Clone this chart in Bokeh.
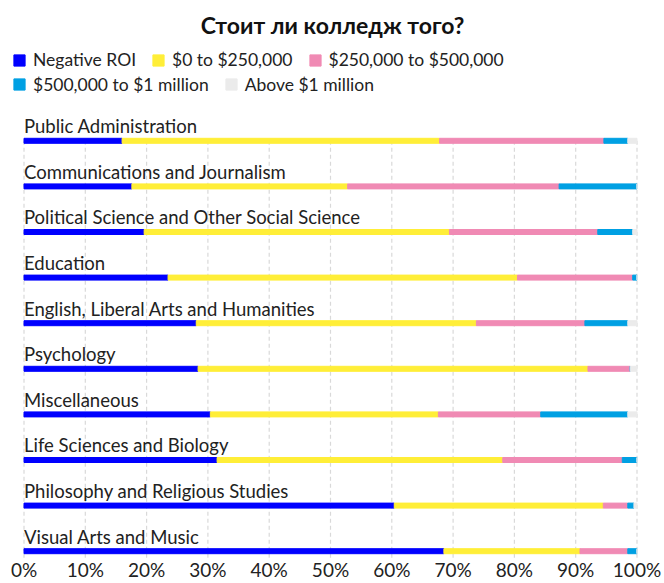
from bokeh.plotting import figure
from bokeh.models import (Range1d, Legend, LegendItem, ColumnDataSource,
                          FixedTicker, PrintfTickFormatter)
from bokeh.core.properties import value
from bokeh.embed import file_html
from bokeh.resources import INLINE

# ---------------- data ----------------
categories = [
    "Public Administration",
    "Communications and Journalism",
    "Political Science and Other Social Science",
    "Education",
    "English, Liberal Arts and Humanities",
    "Psychology",
    "Miscellaneous",
    "Life Sciences and Biology",
    "Philosophy and Religious Studies",
    "Visual Arts and Music",
]
negative_roi = [16.0, 17.6, 19.6, 23.5, 28.1, 28.4, 30.4, 31.5, 60.4, 68.5]
roi_0_250k = [51.8, 35.2, 49.8, 57.0, 45.7, 63.6, 37.2, 46.6, 34.1, 22.2]
roi_250k_500k = [26.8, 34.5, 24.2, 18.8, 17.7, 6.9, 16.7, 19.5, 4.0, 7.8]
roi_500k_1m = [3.9, 12.7, 5.7, 0.7, 7.0, 0.0, 14.2, 2.4, 1.0, 1.5]
roi_above_1m = [1.5, 0.0, 0.7, 0.0, 1.5, 1.1, 1.5, 0.0, 0.5, 0.0]

series_keys = ["neg", "r250", "r500", "r1m", "above"]
series_labels = ["Negative ROI", "$0 to $250,000", "$250,000 to $500,000",
                 "$500,000 to $1 million", "Above $1 million"]
series_colors = ["#0000ff", "#ffee38", "#f08ab4", "#00a0e3", "#ebebeb"]

tick_values = [0, 10, 20, 30, 40, 50, 60, 70, 80, 90, 100]

title_text = "Стоит ли колледж того?"

# ---------------- layout constants ----------------
FONT = "Lato"
W = 664
PX_PER_PCT = 6.13
x_start = -23.5 / PX_PER_PCT
x_end = x_start + W / PX_PER_PCT

TOP = 41
FRAME_H = 518
ROW_PX = 45.6
y_top = -(140.3 - TOP) / ROW_PX
y_bottom = y_top + FRAME_H / ROW_PX

idx = list(range(len(categories)))
source = ColumnDataSource(dict(
    y=idx, cat=categories,
    neg=negative_roi, r250=roi_0_250k, r500=roi_250k_500k,
    r1m=roi_500k_1m, above=roi_above_1m,
))

p = figure(frame_width=W, frame_height=FRAME_H,
           x_range=Range1d(x_start, x_end),
           y_range=Range1d(y_bottom, y_top),
           output_backend="svg", toolbar_location=None,
           min_border_left=0, min_border_right=0, min_border_top=TOP,
           min_border_bottom=0, outline_line_color=None,
           background_fill_color="white", border_fill_color="white")

p.title.text = title_text
p.title.align = "center"
p.title.offset = -4
p.title.standoff = 5
p.title.text_font = FONT
p.title.text_font_size = "23px"
p.title.text_font_style = "bold"
p.title.text_color = "#111111"

# dashed vertical grid lines (from first bar downward)
grid_src = ColumnDataSource(dict(x=tick_values,
                                 y0=[0] * len(tick_values),
                                 y1=[len(categories)] * len(tick_values)))
p.segment(x0="x", x1="x", y0="y0", y1="y1", source=grid_src,
          line_color="#d9d9d9", line_width=1.2, line_dash="4 3")

renderers = p.hbar_stack(series_keys, y="y", height=5 / ROW_PX,
                         color=series_colors, source=source)

p.text(x=0, y="y", text="cat", source=source, text_font=value(FONT),
       text_font_size="18.5px", text_color="#222222",
       text_baseline="middle", y_offset=-14.6)

p.xgrid.visible = False
p.ygrid.visible = False
p.yaxis.visible = False

ax = p.xaxis[0]
ax.ticker = FixedTicker(ticks=tick_values)
ax.formatter = PrintfTickFormatter(format="%d%%")
ax.axis_line_color = None
ax.major_tick_line_color = None
ax.minor_tick_line_color = None
ax.major_tick_out = 0
ax.major_tick_in = 0
ax.major_label_standoff = -2
ax.major_label_text_font = FONT
ax.major_label_text_font_size = "19px"
ax.major_label_text_color = "#222222"

def make_legend(ids, y_loc):
    items = [LegendItem(label=series_labels[i], renderers=[renderers[i]]) for i in ids]
    lg = Legend(items=items, orientation="horizontal", location=(12, y_loc),
                label_text_font=FONT, label_text_font_size="17.5px",
                label_text_color="#222222",
                glyph_width=14, glyph_height=14, label_standoff=7, spacing=15,
                padding=0, margin=0, border_line_color=None,
                background_fill_alpha=0, label_height=14)
    return lg

p.add_layout(make_legend([0, 1, 2], FRAME_H - 29.2))
p.add_layout(make_legend([3, 4], FRAME_H - 53.7))

open("out.html", "w").write(file_html(p, INLINE))
